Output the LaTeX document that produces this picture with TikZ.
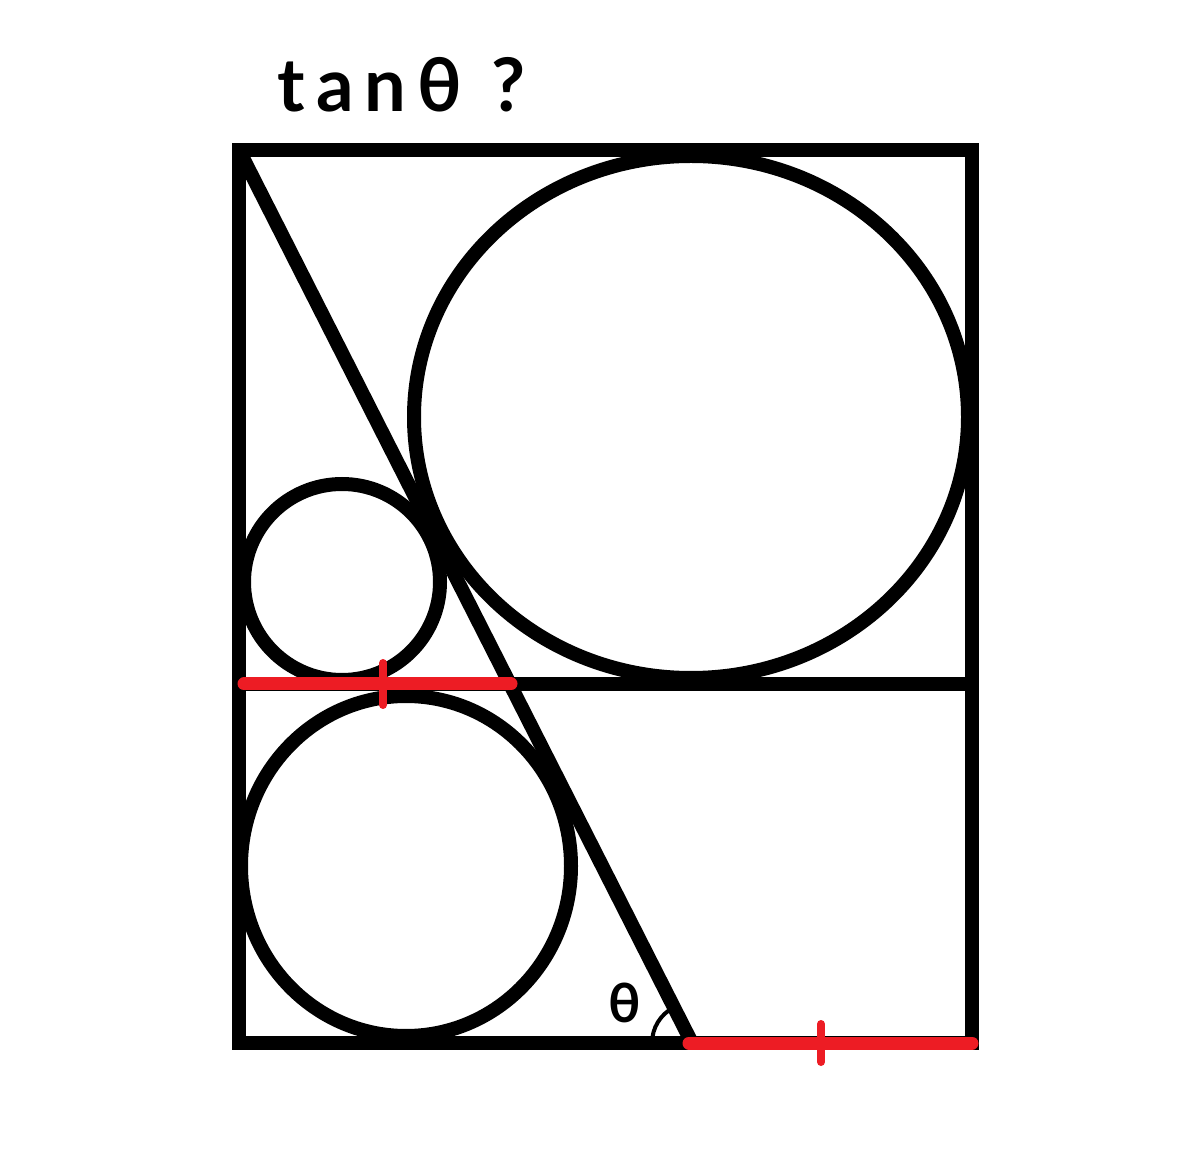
\documentclass[tikz,border=0pt]{standalone}
\usepackage{fontspec}
\setmainfont{Lato}
\definecolor{mspred}{HTML}{ED1C24}
\begin{document}
\begin{tikzpicture}[x=0.5pt,y=-0.5pt,
  blk/.style={draw=black,line width=7pt},
  redseg/.style={draw=mspred,line width=6.5pt,line cap=round},
  redtick/.style={draw=mspred,line width=4pt,line cap=round},
  anglearc/.style={draw=black,line width=2pt}]
\useasboundingbox (0,0) rectangle (1200,1149);
\fill[white] (0,0) rectangle (1200,1149);
\coordinate (TL) at (239,150);
\coordinate (TR) at (972,150);
\coordinate (BR) at (972,1043);
\coordinate (BL) at (239,1043);
\coordinate (ML) at (239,684);
\coordinate (MR) at (972,684);
\coordinate (V) at (692,1043);
\coordinate (RA) at (244,684);
\coordinate (RB) at (511,684);
\coordinate (T1a) at (383,663);
\coordinate (T1b) at (383,705);
\coordinate (RC) at (689,1043);
\coordinate (RD) at (972,1043);
\coordinate (T2a) at (821,1024);
\coordinate (T2b) at (821,1062);
% frame
\draw[blk] (TL) rectangle (BR);
\draw[blk] (ML) -- (MR);
\draw[blk] (TL) -- (V);
% circles
\draw[blk] (691,417) ellipse [x radius=277, y radius=261];
\draw[blk] (342,582) circle [radius=98];
\draw[blk] (406,866) ellipse [x radius=165, y radius=170];
% angle
\draw[anglearc] ([shift={(-117:40)}]V) arc[start angle=-117, end angle=-180, radius=40];
% red marks
\draw[redseg] (RA) -- (RB);
\draw[redtick] (T1a) -- (T1b);
\draw[redseg] (RC) -- (RD);
\draw[redtick] (T2a) -- (T2b);
% labels
\node[font=\fontsize{37}{44}\selectfont\bfseries\addfontfeature{LetterSpace=15}, anchor=base west, inner sep=0pt] (title) at (277,112) {tanθ ?};
\node[font=\fontsize{27}{32}\selectfont\bfseries, anchor=base, inner sep=0pt] (theta) at (625,1022) {θ};
\end{tikzpicture}
\end{document}
